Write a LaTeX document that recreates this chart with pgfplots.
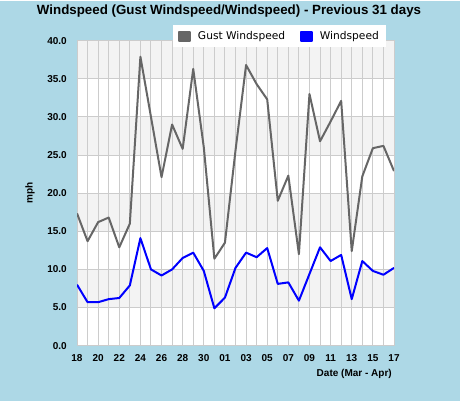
\documentclass[border=0pt]{standalone}
\usepackage{fontspec}
\setmainfont{Liberation Sans}
\newfontfamily\legfont{DejaVu Sans}
\usepackage{pgfplots}
\pgfplotsset{compat=1.18}
\definecolor{bgblue}{HTML}{ADD8E6}
\definecolor{gustgray}{HTML}{666666}
\definecolor{gridgray}{HTML}{CCCCCC}
\definecolor{bandgray}{HTML}{F3F3F3}
\begin{document}
\begin{tikzpicture}
\fill[bgblue] (0,0) rectangle (345pt,300pt);
\fill[white] (57.75pt,41.25pt) rectangle (295.5pt,270pt);
\fill[bandgray] (57.75pt,241.41pt) rectangle (295.5pt,270pt);
\fill[bandgray] (57.75pt,184.22pt) rectangle (295.5pt,212.81pt);
\fill[bandgray] (57.75pt,127.03pt) rectangle (295.5pt,155.63pt);
\fill[bandgray] (57.75pt,69.84pt) rectangle (295.5pt,98.44pt);
\node[font=\bfseries\fontsize{10}{12}\selectfont] at (171.75pt,292.5pt) {Windspeed (Gust Windspeed/Windspeed) - Previous 31 days};
\node[font=\bfseries\fontsize{7.5}{9}\selectfont, rotate=90] at (22.5pt,156pt) {mph};
\node[font=\bfseries\fontsize{7.5}{9}\selectfont, anchor=east, inner sep=0pt] at (294pt,20.25pt) {Date (Mar - Apr)};
\begin{axis}[
  at={(57.75pt,41.25pt)}, anchor=south west,
  scale only axis, width=237.75pt, height=228.75pt,
  xmin=0, xmax=30, ymin=0, ymax=40,
  xtick={0,2,...,30},
  xticklabels={18,20,22,24,26,28,30,01,03,05,07,09,11,13,15,17},
  minor xtick={1,3,...,29},
  ytick={0,5,...,40},
  yticklabels={0.0,5.0,10.0,15.0,20.0,25.0,30.0,35.0,40.0},
  tick style={draw=none},
  xmajorgrids=true, xminorgrids=true, ymajorgrids=true,
  grid style={gridgray, line width=0.75pt},
  minor grid style={gridgray, line width=0.75pt},
  axis line style={gridgray, line width=0.75pt},
  tick label style={font=\bfseries\fontsize{7.5}{9}\selectfont},
  yticklabel style={anchor=east, inner sep=0pt, xshift=-7.5pt},
  xticklabel style={anchor=north, inner sep=0pt, yshift=-6.5pt},
  legend style={at={(0.303,1.052)}, anchor=north west, draw=none, fill=white,
    font=\legfont\fontsize{8}{9}\selectfont, legend columns=2, inner xsep=3.5pt, inner ysep=2.5pt,
    /tikz/every odd column/.append style={column sep=3.5pt},
    /tikz/every even column/.append style={column sep=9pt}},
  legend cell align=left,
  legend image code/.code={\fill[#1] (0pt,-3.4pt) rectangle (8pt,3.4pt);},
]
\addplot[color=gustgray, line width=1.5pt, line join=round] coordinates {
(0,17.35) (1,13.7) (2,16.2) (3,16.8) (4,12.9) (5,16.0) (6,37.9) (7,30.0) (8,22.1) (9,29.0)
(10,25.8) (11,36.3) (12,26.0) (13,11.4) (14,13.5) (15,25.6) (16,36.8) (17,34.3) (18,32.3) (19,19.0)
(20,22.3) (21,12.0) (22,33.0) (23,26.8) (24,29.4) (25,32.1) (26,12.4) (27,22.2) (28,25.9) (29,26.2) (30,22.9)
};
\addlegendentry{Gust Windspeed}
\addplot[color=blue, line width=1.5pt, line join=round] coordinates {
(0,8.0) (1,5.7) (2,5.7) (3,6.1) (4,6.25) (5,7.9) (6,14.1) (7,10.0) (8,9.2) (9,10.0)
(10,11.5) (11,12.2) (12,9.8) (13,4.9) (14,6.3) (15,10.2) (16,12.2) (17,11.6) (18,12.8) (19,8.1)
(20,8.3) (21,5.9) (22,9.4) (23,12.9) (24,11.1) (25,11.9) (26,6.1) (27,11.1) (28,9.8) (29,9.3) (30,10.2)
};
\addlegendentry{Windspeed}
\end{axis}
\end{tikzpicture}
\end{document}
